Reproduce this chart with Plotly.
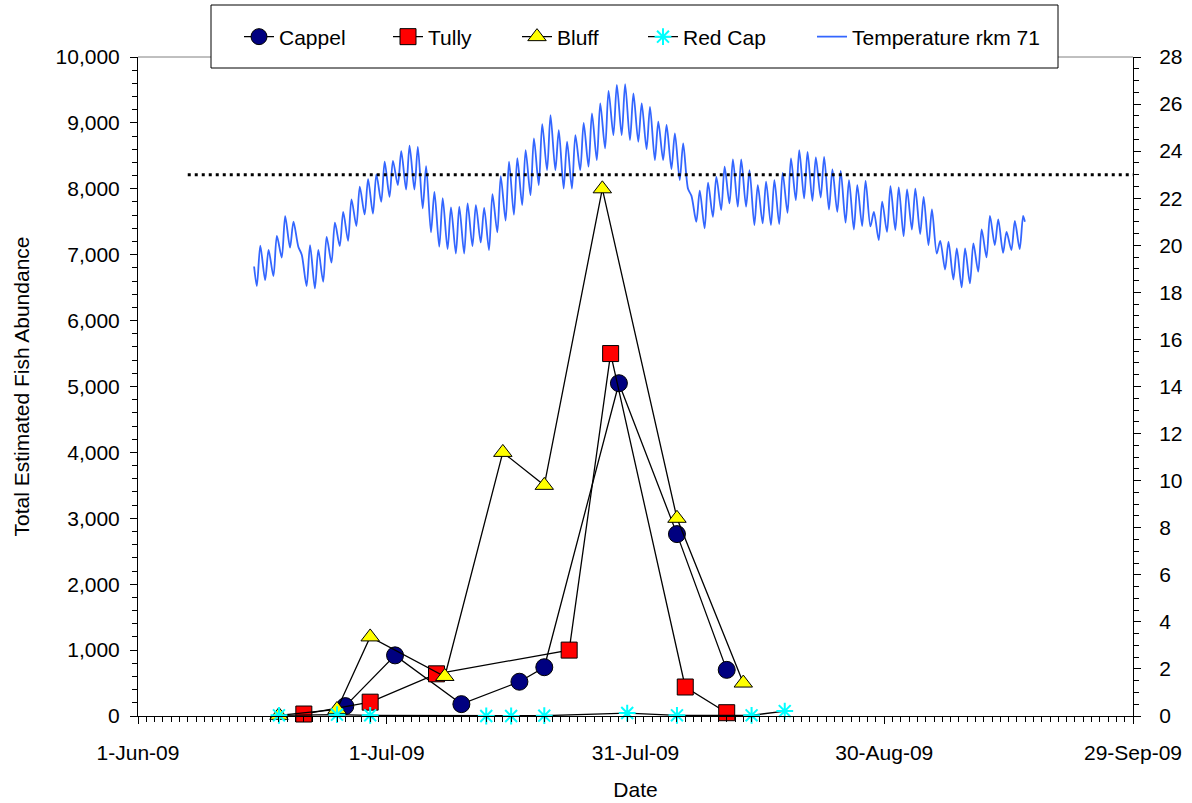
import pandas as pd
import plotly.graph_objects as go

# ---------------- data ----------------
cappel_dates = ["2009-06-26", "2009-07-02", "2009-07-10", "2009-07-17", "2009-07-20",
                "2009-07-29", "2009-08-05", "2009-08-11"]
cappel_vals = [150, 920, 180, 520, 740, 5050, 2760, 700]

tully_dates = ["2009-06-21", "2009-06-29", "2009-07-07", "2009-07-23", "2009-07-28",
               "2009-08-06", "2009-08-11"]
tully_vals = [30, 210, 640, 1000, 5500, 440, 50]

bluff_dates = ["2009-06-18", "2009-06-25", "2009-06-29", "2009-07-08", "2009-07-15",
               "2009-07-20", "2009-07-27", "2009-08-05", "2009-08-13"]
bluff_vals = [10, 100, 1200, 600, 4000, 3500, 8000, 3000, 500]

redcap_dates = ["2009-06-18", "2009-06-25", "2009-06-29", "2009-07-13", "2009-07-16",
                "2009-07-20", "2009-07-30", "2009-08-05", "2009-08-14", "2009-08-18"]
redcap_vals = [10, 20, 10, 0, 0, 5, 45, 10, 10, 75]

# water temperature at rkm 71: daily minimum (morning) and maximum (evening), from 15-Jun-09
temp_first_day = "2009-06-15"
temp_start_value = 19.1
temp_end_value = 21.0
temp_daily_min = [
    18.27, 18.52, 18.69, 19.48, 19.90, 19.94, 18.27, 18.17, 18.45, 19.26,   # 15-24 Jun
    19.97, 20.19, 20.82, 21.31, 21.35, 21.85,                               # 25-30 Jun
    22.06, 22.56, 22.37, 22.37, 21.57, 20.55, 19.94, 19.84, 19.65, 19.65,   # 1-10 Jul
    19.97, 20.12, 19.80, 20.55, 21.05, 21.30, 21.71, 22.13, 22.56, 23.19,   # 11-20 Jul
    23.19, 22.41, 22.41, 23.19, 23.34, 23.62, 24.12, 24.68, 24.68, 24.47,   # 21-30 Jul
    24.40,                                                                  # 31 Jul
    24.09, 23.62, 23.62, 23.24, 22.77, 22.40, 21.00, 20.72, 21.21, 21.50,   # 1-10 Aug
    21.78, 21.64, 21.64, 20.86, 20.93, 20.86, 20.90, 21.38, 21.92, 21.99,   # 11-20 Aug
    21.89, 22.03, 21.52, 21.42, 20.96, 20.67, 20.82, 20.80, 20.22, 20.57,   # 21-30 Aug
    20.65,                                                                  # 31 Aug
    20.39, 20.67, 20.48, 20.01, 19.65, 18.97, 18.55, 18.21, 18.38, 18.88,   # 1-10 Sep
    19.49, 20.01, 19.68, 19.80, 19.84,                                      # 11-15 Sep
]
temp_daily_max = [
    19.98, 19.80, 20.40, 21.24, 21.00, 19.60, 20.01, 19.80, 20.36, 20.96,
    21.42, 21.95, 22.49, 22.81, 23.01, 23.55,
    23.59, 24.00, 24.23, 24.18, 23.36, 22.27, 22.00, 21.61, 21.64, 21.78,
    21.71, 21.59, 22.17, 22.94, 23.55, 23.70, 24.04, 24.54, 25.15, 25.53,
    24.89, 24.40, 24.68, 25.20, 25.60, 26.03, 26.56, 26.81, 26.85, 26.45,
    26.03,
    25.88, 25.25, 25.11, 24.75, 24.33, 22.10, 22.32, 22.66, 22.91, 23.34,
    23.65, 23.65, 23.19, 22.56, 22.70, 22.77, 23.08, 23.69, 24.04, 23.97,
    23.73, 23.76, 23.22, 23.16, 22.77, 22.56, 22.74, 21.42, 21.85, 22.51,
    22.46,
    22.37, 22.41, 22.06, 21.52, 20.19, 20.15, 19.87, 19.87, 20.08, 20.67,
    21.25, 21.10, 20.57, 21.04, 21.25,
]

threshold_dates = ["2009-06-07", "2009-09-29"]
threshold_value = 23

x_tick_dates = ["2009-06-01", "2009-07-01", "2009-07-31", "2009-08-30", "2009-09-29"]
x_tick_labels = ["1-Jun-09", "1-Jul-09", "31-Jul-09", "30-Aug-09", "29-Sep-09"]

# ---------------- build temperature series ----------------
day0 = pd.Timestamp(temp_first_day)
temp_x = [day0]
temp_y = [temp_start_value]
for i, (lo, hi) in enumerate(zip(temp_daily_min, temp_daily_max)):
    d = day0 + pd.Timedelta(days=i)
    temp_x += [d + pd.Timedelta(hours=8), d + pd.Timedelta(hours=18)]
    temp_y += [lo, hi]
temp_x.append(day0 + pd.Timedelta(days=len(temp_daily_min) - 1, hours=23))
temp_y.append(temp_end_value)

FONT = "Arial, Liberation Sans, sans-serif"
FS = 21

# plot area in pixels
W, H = 1192, 803
L, R, T, B = 138, 1133, 57, 716
pw, ph = R - L, B - T


def px_x(p):
    return (p - L) / pw


def px_y(p):
    return (B - p) / ph


fig = go.Figure()

fig.add_trace(go.Scatter(
    x=cappel_dates, y=cappel_vals, name="Cappel", mode="lines+markers",
    line=dict(color="black", width=1.3),
    marker=dict(symbol="circle", size=17, color="#000080", line=dict(color="black", width=1)),
    cliponaxis=False, legend="legend"))
fig.add_trace(go.Scatter(
    x=tully_dates, y=tully_vals, name="Tully", mode="lines+markers",
    line=dict(color="black", width=1.3),
    marker=dict(symbol="square", size=16, color="#FF0000", line=dict(color="black", width=1)),
    cliponaxis=False, legend="legend2"))
fig.add_trace(go.Scatter(
    x=bluff_dates, y=bluff_vals, name="Bluff", mode="lines+markers",
    line=dict(color="black", width=1.3),
    marker=dict(symbol="triangle-up", size=16, color="#FFFF00", line=dict(color="black", width=1)),
    cliponaxis=False, legend="legend3"))
fig.add_trace(go.Scatter(
    x=redcap_dates, y=redcap_vals, name="Red Cap", mode="lines+markers",
    line=dict(color="black", width=1.3),
    marker=dict(symbol="asterisk-open", size=14, color="#00FFFF", line=dict(color="#00FFFF", width=2)),
    cliponaxis=False, legend="legend4"))
fig.add_trace(go.Scatter(
    x=temp_x, y=temp_y, name="Temperature rkm 71", mode="lines", yaxis="y2",
    line=dict(color="#3366FF", width=1.8, shape="spline", smoothing=0.8),
    legend="legend5"))
fig.add_trace(go.Scatter(
    x=threshold_dates, y=[threshold_value, threshold_value], mode="lines", yaxis="y2",
    line=dict(color="black", width=3, dash="3px,4px"), showlegend=False, hoverinfo="skip"))

axis_common = dict(showline=True, linecolor="black", linewidth=1, showgrid=False, zeroline=False,
                   automargin=False,
                   tickfont=dict(family=FONT, size=FS, color="black"), tickcolor="black")

fig.update_layout(
    width=W, height=H,
    margin=dict(l=L, r=W - R, t=T, b=H - B, autoexpand=False),
    paper_bgcolor="white", plot_bgcolor="white",
    font=dict(family=FONT, size=FS, color="black"),
    xaxis=dict(
        type="date", range=["2009-06-01", "2009-09-29"],
        tickmode="array", tickvals=x_tick_dates, ticktext=x_tick_labels,
        ticks="outside", ticklen=7, ticklabelstandoff=11,
        minor=dict(dtick=86400000, tick0="2009-06-01", ticks="outside", ticklen=5, tickcolor="black"),
        title=dict(text="Date", font=dict(family=FONT, size=FS), standoff=19),
        **axis_common),
    yaxis=dict(
        range=[0, 10000], dtick=1000, tickformat=",d",
        ticks="outside", ticklen=7, ticklabelstandoff=6,
        minor=dict(dtick=200, ticks="outside", ticklen=5, tickcolor="black"),
        title=dict(text="Total Estimated Fish Abundance", font=dict(family=FONT, size=FS), standoff=20),
        **axis_common),
    yaxis2=dict(
        range=[0, 28], dtick=2, overlaying="y", side="right",
        ticks="outside", ticklen=7, ticklabelstandoff=14,
        minor=dict(dtick=0.5, ticks="outside", ticklen=5, tickcolor="black"),
        **axis_common),
    showlegend=True,
)

# legend entries placed individually to match the spacing of the original legend
legend_text_px = [279, 428, 557, 683, 852]
legend_names = ["legend", "legend2", "legend3", "legend4", "legend5"]
for name, tx in zip(legend_names, legend_text_px):
    fig.update_layout({name: dict(
        x=px_x(tx - 40), y=px_y(37), xanchor="left", yanchor="middle",
        orientation="h", bgcolor="rgba(0,0,0,0)", borderwidth=0,
        font=dict(family=FONT, size=FS, color="black"))})

# grey top border of the plot area and the legend frame
fig.add_shape(type="line", xref="paper", yref="paper", x0=0, x1=1, y0=1, y1=1,
              line=dict(color="#808080", width=1), layer="above")
fig.add_shape(type="rect", xref="paper", yref="paper",
              x0=px_x(211), x1=px_x(1058), y0=px_y(68), y1=px_y(5),
              line=dict(color="black", width=1), fillcolor="white", layer="above")

fig.write_html("out.html", config={"displayModeBar": False},
               post_script="document.body.style.margin='0';")
